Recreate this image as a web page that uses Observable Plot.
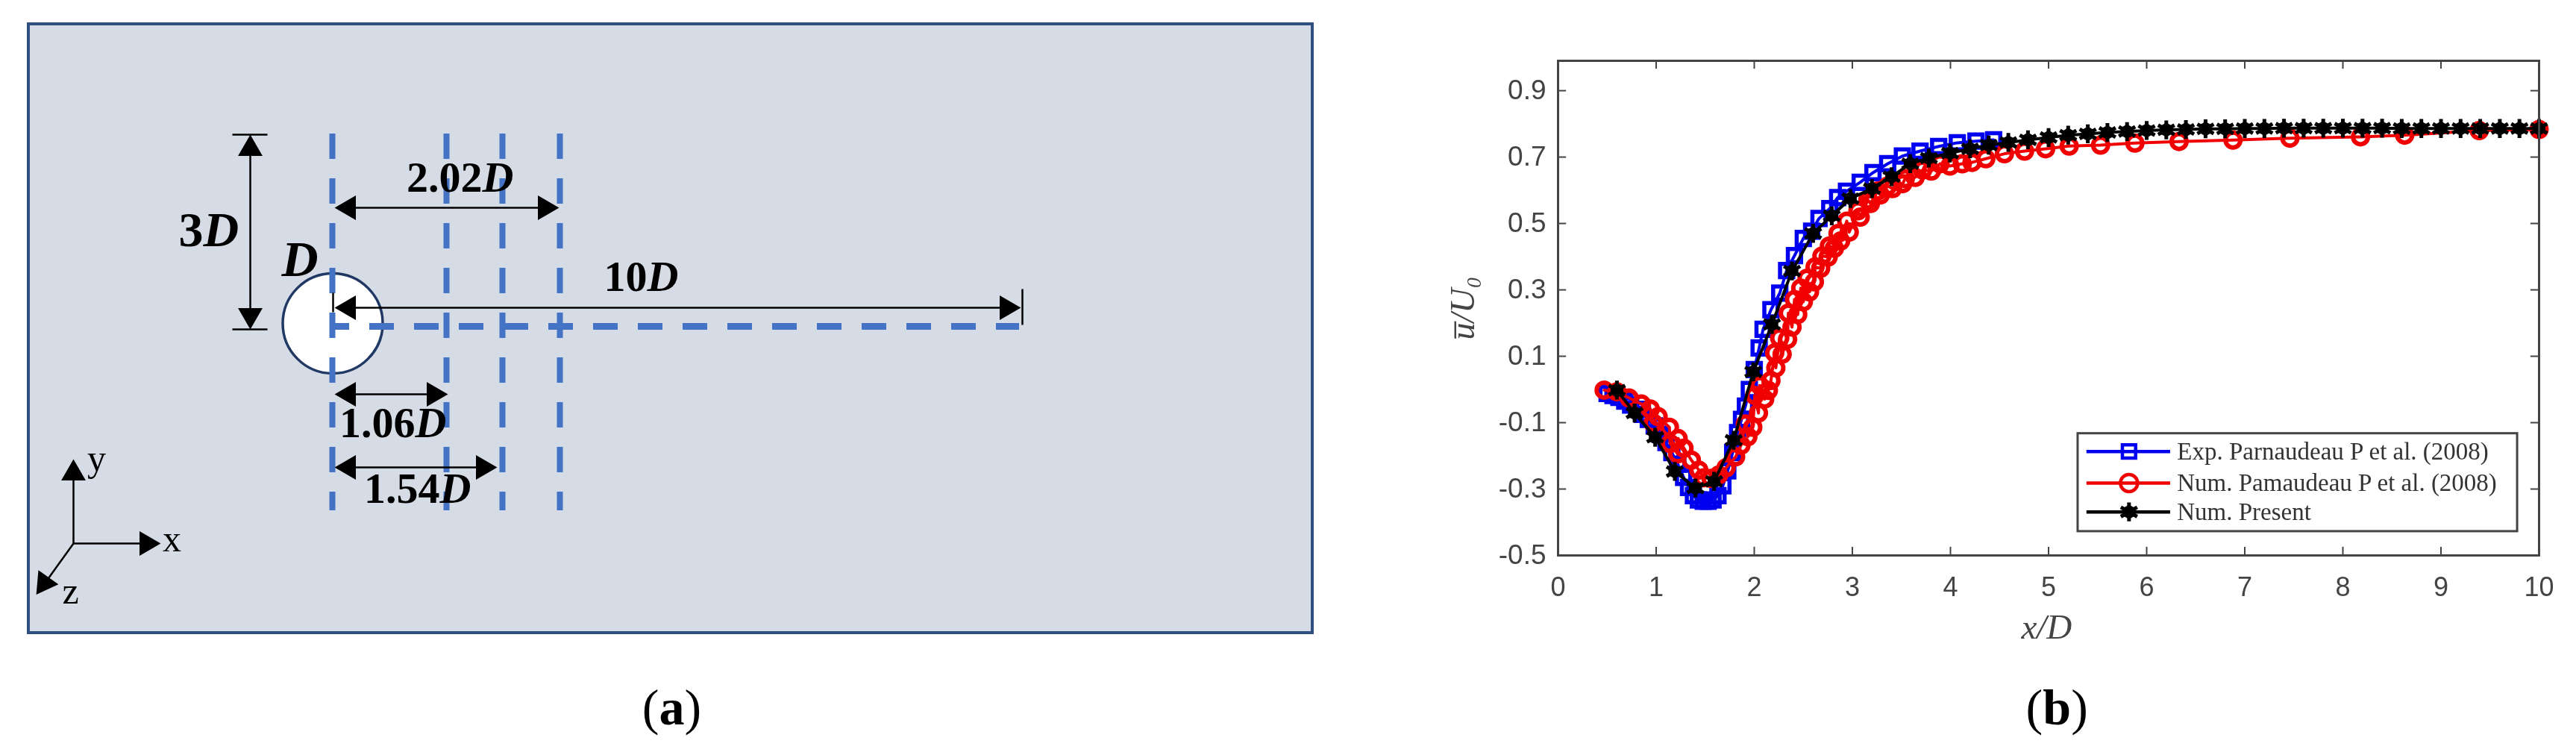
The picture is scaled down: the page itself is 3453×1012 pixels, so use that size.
<!DOCTYPE html>
<html><head><meta charset="utf-8">
<script src="https://cdn.jsdelivr.net/npm/d3@7"></script>
<script src="https://cdn.jsdelivr.net/npm/@observablehq/plot@0.6"></script>
<style>
html,body{margin:0;padding:0;background:#fff}
#wrap{display:flex;width:3453px;height:1012px}
#b svg{filter:blur(0.7px)}
svg{display:block;overflow:visible}
</style></head><body><div id="wrap"><div id="a"></div><div id="b"></div></div>
<script>
// ---------- Panel (b) data ----------
const expX = [0.5,0.56,0.62,0.68,0.74,0.8,0.86,0.92,0.98,1.04,1.1,1.16,1.22,1.28,1.33,1.38,1.43,1.48,1.53,1.58,1.63,1.68,1.73,1.78,1.83,1.87,1.91,1.95,2.0,2.05,2.09,2.17,2.26,2.33,2.41,2.5,2.585,2.66,2.77,2.85,2.94,3.08,3.21,3.36,3.51,3.69,3.88,4.07,4.26,4.44];
const expU = [-0.012,-0.018,-0.024,-0.035,-0.047,-0.06,-0.075,-0.09,-0.11,-0.135,-0.16,-0.19,-0.225,-0.265,-0.295,-0.32,-0.333,-0.337,-0.337,-0.333,-0.32,-0.29,-0.245,-0.19,-0.13,-0.09,-0.05,0,0.06,0.125,0.181,0.24,0.29,0.358,0.403,0.455,0.477,0.515,0.545,0.578,0.597,0.624,0.653,0.68,0.703,0.718,0.732,0.743,0.748,0.752];
const numX = [0.47,0.6,0.725,0.85,0.94,0.97,1.02,1.135,1.143,1.219,1.224,1.283,1.359,1.435,1.485,1.56,1.637,1.713,1.81,1.865,1.909,1.935,1.985,2.005,2.043,2.055,2.106,2.144,2.17,2.208,2.22,2.259,2.284,2.34,2.347,2.385,2.41,2.443,2.474,2.5,2.538,2.563,2.613,2.62,2.677,2.69,2.753,2.766,2.816,2.854,2.88,2.943,2.968,3.057,3.08,3.158,3.184,3.26,3.285,3.361,3.41,3.513,3.539,3.64,3.716,3.805,3.894,3.995,4.12,4.22,4.36,4.55,4.755,4.97,5.21,5.53,5.88,6.33,6.88,7.46,8.18,8.63,9.39,10];
const numU = [-0.002,-0.007,-0.026,-0.044,-0.059,-0.101,-0.082,-0.114,-0.163,-0.194,-0.148,-0.177,-0.213,-0.243,-0.266,-0.268,-0.258,-0.236,-0.203,-0.168,-0.104,-0.142,-0.114,-0.018,-0.071,0.012,-0.029,-0.003,0.027,0.11,0.065,0.155,0.106,0.151,0.23,0.188,0.271,0.226,0.305,0.264,0.335,0.294,0.324,0.369,0.365,0.402,0.399,0.432,0.425,0.47,0.447,0.507,0.474,0.538,0.519,0.571,0.56,0.598,0.586,0.613,0.605,0.62,0.635,0.639,0.661,0.658,0.68,0.673,0.68,0.684,0.695,0.71,0.718,0.725,0.733,0.736,0.742,0.747,0.751,0.757,0.761,0.766,0.78,0.783];
const presX = [0.6,0.78,0.99,1.19,1.4,1.59,1.79,1.99,2.18,2.385,2.6,2.79,2.98,3.2,3.4,3.59,3.78,3.995,4.2,4.39,4.59,4.79,5,5.2,5.4,5.6,5.8,6,6.2,6.4,6.6,6.8,7,7.2,7.4,7.6,7.8,8,8.2,8.4,8.6,8.8,9,9.2,9.4,9.6,9.8,10];
const presU = [-0.002,-0.071,-0.144,-0.247,-0.297,-0.277,-0.153,0.053,0.196,0.357,0.47,0.523,0.575,0.605,0.641,0.68,0.697,0.712,0.725,0.736,0.744,0.752,0.759,0.766,0.77,0.774,0.777,0.78,0.782,0.783,0.785,0.785,0.786,0.786,0.787,0.787,0.787,0.787,0.787,0.787,0.786,0.786,0.786,0.786,0.786,0.786,0.786,0.786];
const xTicks = [0,1,2,3,4,5,6,7,8,9,10];
const yTicks = [-0.5,-0.3,-0.1,0.1,0.3,0.5,0.7,0.9];
const legendNames = ["Exp. Parnaudeau P et al. (2008)","Num. Pamaudeau P et al. (2008)","Num. Present"];
const legendRows = [-0.187,-0.282,-0.369];
const BLUE="#0000f0", RED="#f00000", BLACK="#000", INK="#444";
const zip=(xs,ys)=>xs.map((x,i)=>({x,y:ys[i]}));
const exp=zip(expX,expU), num=zip(numX,numU), pres=zip(presX,presU);
const sans="'Liberation Sans',Arial,sans-serif", serif="'Liberation Serif',serif";

const blueDot={symbol:"square",r:10,stroke:BLUE,strokeWidth:5.5,fill:"none"};
const redDot={symbol:"circle",r:10,stroke:RED,strokeWidth:6,fill:"none"};
const blackHub={symbol:"hexagon",r:7.5,stroke:BLACK,strokeWidth:2,fill:BLACK};
const blackArms={symbol:"asterisk",r:12,stroke:BLACK,strokeWidth:5,fill:"none"};

const panelB = Plot.plot({
  width:1553,height:1012,marginLeft:188,marginRight:50,marginTop:81,marginBottom:268,
  style:{background:"transparent"},
  x:{domain:[0,10],axis:null},
  y:{domain:[-0.5,0.99],axis:null},
  marks:[
    Plot.line(exp,{x:"x",y:"y",stroke:BLUE,strokeWidth:4}),
    Plot.dot(exp,{x:"x",y:"y",...blueDot}),
    Plot.line(num,{x:"x",y:"y",stroke:RED,strokeWidth:4}),
    Plot.dot(num,{x:"x",y:"y",...redDot}),
    Plot.line(pres,{x:"x",y:"y",stroke:BLACK,strokeWidth:4}),
    Plot.dot(pres,{x:"x",y:"y",...blackHub}),
    Plot.dot(pres,{x:"x",y:"y",...blackArms}),
    // inward ticks on all four sides
    Plot.ruleX(xTicks,{x:d=>d,y1:-0.5,y2:-0.475,stroke:INK,strokeWidth:2}),
    Plot.ruleX(xTicks,{x:d=>d,y1:0.99,y2:0.965,stroke:INK,strokeWidth:2}),
    Plot.ruleY(yTicks,{y:d=>d,x1:0,x2:0.085,stroke:INK,strokeWidth:2}),
    Plot.ruleY(yTicks,{y:d=>d,x1:10,x2:9.915,stroke:INK,strokeWidth:2}),
    Plot.frame({stroke:INK,strokeWidth:3}),
    Plot.text(xTicks,{x:d=>d,text:d=>String(d),frameAnchor:"bottom",dy:54,lineAnchor:"bottom",fontSize:36,fontFamily:sans,fill:INK}),
    Plot.text(yTicks,{y:d=>d,text:d=>d.toFixed(1),frameAnchor:"left",dx:-16,textAnchor:"end",fontSize:37,fontFamily:sans,fill:INK}),
    Plot.text(["x/D"],{x:[4.98],text:d=>d,frameAnchor:"bottom",dy:111,lineAnchor:"bottom",fontSize:47,fontFamily:serif,fontStyle:"italic",fill:INK}),
    Plot.text(["u\u0305/U\u2080"],{y:[0.245],text:d=>d,frameAnchor:"left",dx:-113,rotate:-90,textAnchor:"middle",lineAnchor:"bottom",fontSize:46,fontFamily:serif,fontStyle:"italic",fill:INK}),
    // legend
    Plot.rect([0],{x1:5.3,x2:9.78,y1:-0.133,y2:-0.428,fill:"#fff",stroke:INK,strokeWidth:3}),
    Plot.ruleY(legendRows,{y:d=>d,x1:5.39,x2:6.243,stroke:(d,i)=>[BLUE,RED,BLACK][i],strokeWidth:4.5}),
    Plot.dot([legendRows[0]],{x:[5.82],y:d=>d,...blueDot,strokeWidth:4.5}),
    Plot.dot([legendRows[1]],{x:[5.82],y:d=>d,...redDot,strokeWidth:4.5,r:11.5}),
    Plot.dot([legendRows[2]],{x:[5.82],y:d=>d,...blackHub}),
    Plot.dot([legendRows[2]],{x:[5.82],y:d=>d,...blackArms}),
    Plot.text(legendNames,{x:[6.31,6.31,6.31],y:legendRows,text:d=>d,textAnchor:"start",fontSize:33,fontFamily:serif,fill:"#333"}),
    // caption
    Plot.text(["("],{x:[4.94],text:d=>d,frameAnchor:"bottom",dy:226,lineAnchor:"bottom",textAnchor:"end",fontSize:68,fontFamily:serif,fill:"#000"}),
    Plot.text(["b"],{x:[4.94+0.145],text:d=>d,frameAnchor:"bottom",dy:226,lineAnchor:"bottom",fontSize:68,fontFamily:serif,fontWeight:"bold",fill:"#000"}),
    Plot.text([")"],{x:[4.94+0.29],text:d=>d,frameAnchor:"bottom",dy:226,lineAnchor:"bottom",textAnchor:"start",fontSize:68,fontFamily:serif,fill:"#000"})
  ]
});

// ---------- Panel (a): schematic, in the sheet's own coordinates ----------
const DASH="#4472c4", NAVY="#203864", PANEL="#d6dce5";
const frameBox=[{x1:38,x2:1759,y1:32,y2:848}];
const cylinder=[{x:445.5,y:433}];
const probeLines=[445,598,673,750];
const wakeLine=[{x1:445,x2:1366,y:437}];
const segments=[
  {x1:455,y1:278,x2:740,y2:278},{x1:455,y1:528,x2:590,y2:528},{x1:455,y1:626,x2:655,y2:626},
  {x1:455,y1:412,x2:1360,y2:412},{x1:335,y1:190,x2:335,y2:432},
  {x1:311,y1:180,x2:358,y2:180},{x1:311,y1:441,x2:358,y2:441},
  {x1:1370,y1:387,x2:1370,y2:435},{x1:446,y1:392,x2:446,y2:418},
  {x1:98,y1:728,x2:98,y2:640},{x1:98,y1:728,x2:190,y2:728},{x1:98,y1:728,x2:62,y2:778}
];
const heads=[
  {x:467,y:278,a:-90},{x:730,y:278,a:90},{x:467,y:528,a:-90},{x:581,y:528,a:90},
  {x:467,y:626,a:-90},{x:647,y:626,a:90},{x:467,y:412,a:-90},{x:1349,y:412,a:90},
  {x:335,y:199,a:0},{x:335,y:422,a:180},
  {x:98,y:634,a:0},{x:196,y:728,a:90},{x:59,y:781,a:215}
];
const dims=[
  {n:"2.02",d:"D",x:646,y:256,s:58},{n:"1.06",d:"D",x:556,y:585,s:58},{n:"1.54",d:"D",x:589,y:673,s:58},
  {n:"10",d:"D",x:867,y:389,s:58},{n:"3",d:"D",x:272,y:329,s:66},{n:"",d:"D",x:377,y:369,s:68}
];
const axisNames=[{t:"y",x:129,y:630},{t:"x",x:230,y:738},{t:"z",x:94,y:808}];

const panelA = Plot.plot({
  width:1900,height:1012,margin:0,
  style:{background:"transparent"},
  x:{domain:[0,1900],range:[0,1900],axis:null},
  y:{domain:[0,1012],range:[0,1012],axis:null},
  marks:[
    Plot.rect(frameBox,{x1:"x1",x2:"x2",y1:"y1",y2:"y2",fill:PANEL,stroke:"#2f4f80",strokeWidth:4}),
    Plot.dot(cylinder,{x:"x",y:"y",r:67,fill:"#fff",stroke:NAVY,strokeWidth:3.5}),
    Plot.ruleX(probeLines,{x:d=>d,y1:179,y2:684,stroke:DASH,strokeWidth:8,strokeDasharray:"34,26"}),
    Plot.ruleY(wakeLine,{y:"y",x1:"x1",x2:"x2",stroke:DASH,strokeWidth:9,strokeDasharray:"33,27",strokeDashoffset:10}),
    Plot.link(segments,{x1:"x1",y1:"y1",x2:"x2",y2:"y2",stroke:"#000",strokeWidth:2.5}),
    Plot.dot(heads,{x:"x",y:"y",symbol:"triangle",r:12.2,fill:"#000",rotate:"a"}),
    Plot.text(dims,{x:"x",y:"y",text:"n",fontSize:"s",textAnchor:"end",lineAnchor:"bottom",fontWeight:"bold",fontFamily:serif,fill:"#000"}),
    Plot.text(dims,{x:"x",y:"y",text:"d",fontSize:"s",textAnchor:"start",lineAnchor:"bottom",fontWeight:"bold",fontStyle:"italic",fontFamily:serif,fill:"#000"}),
    Plot.text(axisNames,{x:"x",y:"y",text:"t",fontSize:50,lineAnchor:"bottom",fontFamily:serif,fill:"#000"}),
    Plot.text(["("],{x:[883],y:[970],text:d=>d,lineAnchor:"bottom",textAnchor:"end",fontSize:68,fontFamily:serif,fill:"#000"}),
    Plot.text(["a"],{x:[900],y:[970],text:d=>d,lineAnchor:"bottom",fontSize:68,fontWeight:"bold",fontFamily:serif,fill:"#000"}),
    Plot.text([")"],{x:[917],y:[970],text:d=>d,lineAnchor:"bottom",textAnchor:"start",fontSize:68,fontFamily:serif,fill:"#000"})
  ]
});
document.getElementById("a").append(panelA);
document.getElementById("b").append(panelB);
</script></body></html>
